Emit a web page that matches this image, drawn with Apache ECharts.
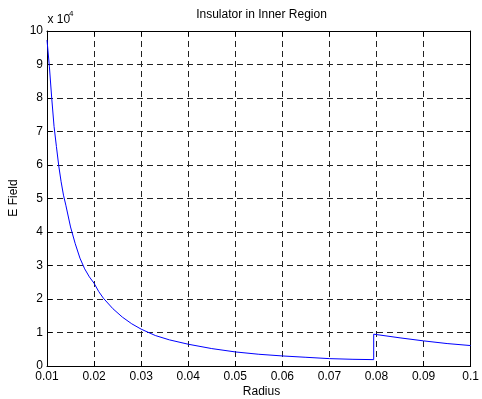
<!DOCTYPE html>
<html>
<head>
<meta charset="utf-8">
<script src="https://cdn.jsdelivr.net/npm/echarts@6/dist/echarts.min.js"></script>
<style>
html,body{margin:0;padding:0;background:#fff;}
#chart{width:482px;height:399px;}
</style>
</head>
<body>
<div id="chart"></div>
<script>
// Radius values (m)
var radius = [0.0100,0.0105,0.0110,0.0115,0.0120,0.0125,0.0130,0.0135,0.0140,0.0150,
              0.0160,0.0170,0.0180,0.0190,0.0200,0.0210,0.0220,0.0240,0.0260,0.0280,
              0.0300,0.0330,0.0360,0.0400,0.0450,0.0500,0.0550,0.0600,0.0650,0.0700,
              0.0750,0.0794,0.0794,0.0850,0.0900,0.0950,0.1000];
// E field values, in units of 10^4
var eField = [9.73,8.95,8.00,7.15,6.55,5.97,5.50,5.10,4.80,4.15,
              3.65,3.22,2.90,2.66,2.47,2.22,2.02,1.71,1.46,1.26,
              1.10,0.91,0.78,0.65,0.52,0.42,0.35,0.30,0.26,0.22,
              0.20,0.19,0.95,0.84,0.75,0.67,0.61];
var xTicks = {min:0.01, max:0.1, interval:0.01};
var yTicks = {min:0, max:10, interval:1};
var titleText = 'Insulator in Inner Region';
var xName = 'Radius';
var yName = 'E Field';
var expBase = 'x 10';
var expPow = '4';

var data = radius.map(function(r,i){return [r, eField[i]];});
var FONT = 'Liberation Sans, Arial, sans-serif';
var chart = echarts.init(document.getElementById('chart'), null, {renderer:'canvas'});

var gridLine = {show:true, lineStyle:{color:'#222', width:1, type:[6,4]}};
var axisLineS = {show:true, onZero:false, lineStyle:{color:'#000', width:1}};
var tick = {show:true, inside:true, length:5, lineStyle:{color:'#000', width:1}};

chart.setOption({
  animation:false,
  backgroundColor:'#fff',
  grid:{left:47, top:31, width:428, height:335, containLabel:false},
  xAxis:[{
    type:'value', min:xTicks.min, max:xTicks.max, interval:xTicks.interval,
    position:'bottom',
    axisLine:axisLineS, axisTick:tick, splitLine:gridLine,
    axisLabel:{margin:5, color:'#000', fontSize:12, fontFamily:FONT,
      formatter:function(v){return parseFloat(v.toFixed(2)).toString();}}
  },{
    type:'value', min:xTicks.min, max:xTicks.max, interval:xTicks.interval,
    position:'top',
    axisLine:axisLineS, axisTick:tick, splitLine:{show:false}, axisLabel:{show:false}
  }],
  yAxis:[{
    type:'value', min:yTicks.min, max:yTicks.max, interval:yTicks.interval,
    position:'left',
    axisLine:axisLineS, axisTick:tick, splitLine:gridLine,
    axisLabel:{margin:4, color:'#000', fontSize:12, fontFamily:FONT}
  },{
    type:'value', min:yTicks.min, max:yTicks.max, interval:yTicks.interval,
    position:'right',
    axisLine:axisLineS, axisTick:tick, splitLine:{show:false}, axisLabel:{show:false}
  }],
  series:[{
    type:'line', xAxisIndex:0, yAxisIndex:0, data:data,
    showSymbol:false, symbol:'none', smooth:false,
    lineStyle:{color:'#0000ff', width:1}
  }],
  graphic:[
    {type:'text', left:null, x:261.5, y:15, style:{text:titleText, fill:'#000', font:'12px '+FONT, textAlign:'center', textVerticalAlign:'middle'}},
    {type:'text', x:261.5, y:392, style:{text:xName, fill:'#000', font:'12px '+FONT, textAlign:'center', textVerticalAlign:'middle'}},
    {type:'text', x:14, y:198, rotation:Math.PI/2, style:{text:yName, fill:'#000', font:'12px '+FONT, textAlign:'center', textVerticalAlign:'middle'}},
    {type:'text', x:47.5, y:20, style:{text:expBase, fill:'#000', font:'12px '+FONT, textAlign:'left', textVerticalAlign:'middle'}},
    {type:'text', x:69, y:14, style:{text:expPow, fill:'#000', font:'8px '+FONT, textAlign:'left', textVerticalAlign:'middle'}}
  ]
});
</script>
</body>
</html>
